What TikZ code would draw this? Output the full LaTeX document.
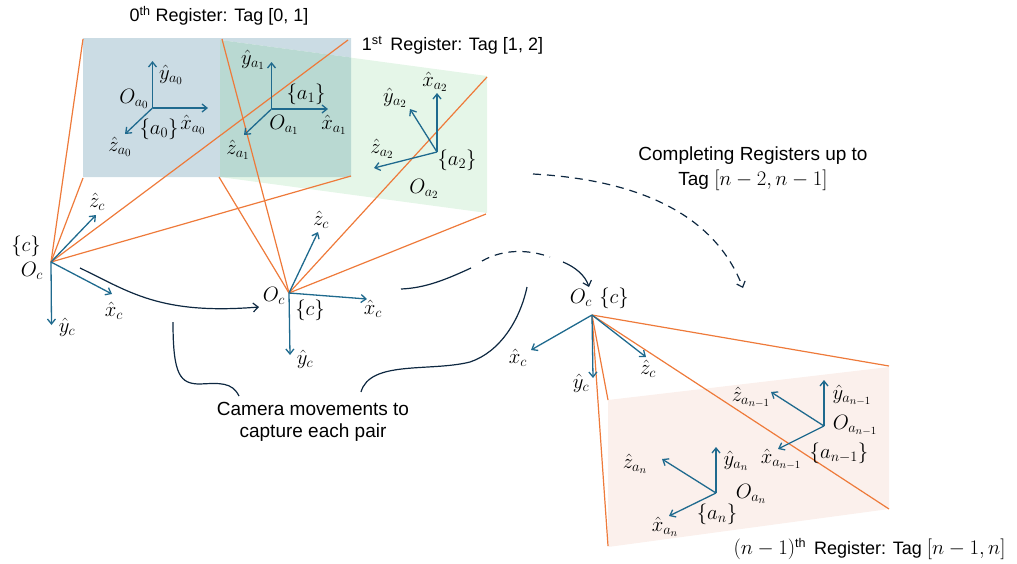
\documentclass[tikz,border=0pt]{standalone}
\usepackage{amsmath,amssymb}
\usepackage{fontspec}
\setmainfont{Liberation Sans}
\DeclareMathSizes{20}{20}{15}{11}
\DeclareMathSizes{21}{21}{15}{11}
\usetikzlibrary{arrows.meta,calc,positioning}
\definecolor{AxisBlue}{HTML}{1F6A8E}
\definecolor{RayOrange}{HTML}{EE7A3A}
\definecolor{MoveNavy}{HTML}{0E2841}
\definecolor{RegBlue}{HTML}{CBDCE4}
\definecolor{RegGreen}{HTML}{E5F6E8}
\definecolor{RegTeal}{HTML}{B9D9D2}
\definecolor{RegPink}{HTML}{FBF0EC}
\newcommand{\tagrange}[1]{{\fontsize{21}{22}\selectfont$#1$}}

\begin{document}
\begin{tikzpicture}[x=1pt,y=-1pt,
    axis/.style={-{Straight Barb[length=5pt,width=8pt]},line width=1.3pt,AxisBlue},
    ray/.style={line width=1.2pt,RayOrange},
    move/.style={line width=1.2pt,MoveNavy},
    movearr/.style={move,-{Straight Barb[length=5pt,width=9pt]}},
    movedash/.style={dash pattern=on 8pt off 6pt},
    sym/.style={inner sep=0pt,font=\fontsize{20}{22}\selectfont},
    reg/.style={inner sep=0pt,font=\fontsize{18}{22}\selectfont},
    note/.style={inner sep=0pt,font=\fontsize{19}{22}\selectfont,align=center}]
    \useasboundingbox (0,0) rectangle (1017,563);
    % register planes
    \fill[RegGreen] (220,40) -- (487,76) -- (487,213) -- (220,177) -- cycle;
    \fill[RegBlue] (83,38) -- (351,38) -- (351,57.5) -- (220,40) -- (220,177) -- (83,177) -- cycle;
    \fill[RegTeal] (220,40) -- (351,57.5) -- (351,177) -- (220,177) -- cycle;
    \fill[RegPink] (608,400) -- (889,367) -- (889,509) -- (608,547) -- cycle;
    % camera poses and tag origins
    \coordinate (camA) at (51,262);
    \coordinate (camB) at (289,293);
    \coordinate (camC) at (592,315);
    \coordinate (tagZero) at (152.5,108);
    \coordinate (tagOne) at (271.5,109);
    \coordinate (tagTwo) at (437,152);
    \coordinate (tagPrev) at (824,426);
    \coordinate (tagLast) at (716,493);
    % rays
    \coordinate (rayA1) at (83,39);
    \coordinate (rayA2) at (83,178);
    \coordinate (rayA3) at (348,40);
    \coordinate (rayA4) at (351,176);
    \coordinate (rayB1) at (222,39);
    \coordinate (rayB2) at (219,177);
    \coordinate (rayB3) at (487,77);
    \coordinate (rayB4) at (486,214);
    \coordinate (rayC1) at (889,366);
    \coordinate (rayC2) at (889,509);
    \coordinate (rayC3) at (608,400);
    \coordinate (rayC4) at (608,546);
    \foreach \ray in {rayA1,rayA2,rayA3,rayA4}
      \draw[ray] (camA) -- (\ray);
    \foreach \ray in {rayB1,rayB2,rayB3,rayB4}
      \draw[ray] (camB) -- (\ray);
    \foreach \ray in {rayC1,rayC2,rayC3,rayC4}
      \draw[ray] (camC) -- (\ray);
    % axis labels
    \node[sym] (yz) at (171,75) {$\hat{y}_{a_0}$};
    \node[sym] (xz) at (193,125) {$\hat{x}_{a_0}$};
    \node[sym] (zz) at (120,147) {$\hat{z}_{a_0}$};
    \node[sym] (oz) at (134,99) {$O_{a_0}$};
    \node[sym] (fz) at (159,129) {$\{a_0\}$};
    \node[sym] (yo) at (253,60) {$\hat{y}_{a_1}$};
    \node[sym] (xo) at (334,125) {$\hat{x}_{a_1}$};
    \node[sym] (zo) at (238,150) {$\hat{z}_{a_1}$};
    \node[sym] (oo) at (284,125) {$O_{a_1}$};
    \node[sym] (fo) at (306,94) {$\{a_1\}$};
    \node[sym] (yt) at (395,98) {$\hat{y}_{a_2}$};
    \node[sym] (xt) at (435,82) {$\hat{x}_{a_2}$};
    \node[sym] (zt) at (382,149) {$\hat{z}_{a_2}$};
    \node[sym] (ot) at (424,189) {$O_{a_2}$};
    \node[sym] (ft) at (457,160) {$\{a_2\}$};
    \node[sym] (yp) at (852,395) {$\hat{y}_{a_{n-1}}$};
    \node[sym] (xp) at (781,459) {$\hat{x}_{a_{n-1}}$};
    \node[sym] (zp) at (751,397) {$\hat{z}_{a_{n-1}}$};
    \node[sym] (op) at (855,425) {$O_{a_{n-1}}$};
    \node[sym] (fp) at (839,453) {$\{a_{n-1}\}$};
    \node[sym] (yl) at (736,461) {$\hat{y}_{a_n}$};
    \node[sym] (xl) at (665,527) {$\hat{x}_{a_n}$};
    \node[sym] (zl) at (635,464) {$\hat{z}_{a_n}$};
    \node[sym] (ol) at (751,494) {$O_{a_n}$};
    \node[sym] (fl) at (717,514) {$\{a_n\}$};
    \node[sym] (fa) at (26,246) {$\{c\}$};
    \node[sym] (oa) at (32,271) {$O_c$};
    \node[sym] (za) at (97,202) {$\hat{z}_c$};
    \node[sym] (xa) at (114,311) {$\hat{x}_c$};
    \node[sym] (ya) at (67,327) {$\hat{y}_c$};
    \node[sym] (ob) at (274,296) {$O_c$};
    \node[sym] (fb) at (310,310) {$\{c\}$};
    \node[sym] (zb) at (321,220) {$\hat{z}_c$};
    \node[sym] (xb) at (373,309) {$\hat{x}_c$};
    \node[sym] (yb) at (305,359) {$\hat{y}_c$};
    \node[sym] (oc) at (581,298) {$O_c$};
    \node[sym] (fc) at (614,298) {$\{c\}$};
    \node[sym] (xc) at (518,358) {$\hat{x}_c$};
    \node[sym] (yc) at (581,383) {$\hat{y}_c$};
    \node[sym] (zc) at (648,369) {$\hat{z}_c$};
    % axes
    \draw[axis] (tagZero) -- (152.5,61);
    \draw[axis] (tagZero) -- (208,108);
    \draw[axis] (tagZero) -- (125,134);
    \draw[axis] (tagOne) -- (271.5,62);
    \draw[axis] (tagOne) -- (328,109);
    \draw[axis] (tagOne) -- (244,135);
    \draw[axis] (tagTwo) -- (437,93);
    \draw[axis] (tagTwo) -- (410,109);
    \draw[axis] (tagTwo) -- (374,168);
    \draw[axis] (tagPrev) -- (824,380);
    \draw[axis] (tagPrev) -- (771,392);
    \draw[axis] (tagPrev) -- (778,449);
    \draw[axis] (tagLast) -- (716,447);
    \draw[axis] (tagLast) -- (662,459);
    \draw[axis] (tagLast) -- (669,516);
    \draw[axis] (camA) -- (96,215);
    \draw[axis] (camA) -- (112,294);
    \draw[axis] (camA) -- (51.5,325);
    \draw[axis] (camB) -- (318,232);
    \draw[axis] (camB) -- (367,299);
    \draw[axis] (camB) -- (290,355);
    \draw[axis] (camC) -- (531,350);
    \draw[axis] (camC) -- (593,378);
    \draw[axis] (camC) -- (646,357);
    % register and movement labels
    \node[reg] (regZero) at (219,16) {0\textsuperscript{th} Register: Tag [0, 1]};
    \node[reg] (regOne) at (452.5,45) {1\textsuperscript{st}\, Register: Tag [1, 2]};
    \node[reg] (regLast) at (869.5,549) {\tagrange{(n-1)}\textsuperscript{th}\, Register: Tag \tagrange{[n-1,n]}};
    \node[note] (moves) at (313,422) {Camera movements to\\capture each pair};
    \node[note,font=\fontsize{19}{25}\selectfont] (rest) at (753,169) {Completing Registers up to\\Tag \tagrange{[n-2,n-1]}};
    % camera movements
    \draw[movearr] (80,268) .. controls (130,292) and (160,315) .. (259,307);
    \draw[move] (401,289) .. controls (425,288) and (445,280) .. (471,268);
    \draw[move,movedash] (482,261) .. controls (505,248) and (530,250) .. (550,257);
    \draw[movearr] (563,262) .. controls (575,267) and (585,275) .. (589,287);
    \draw[move] (173,322) .. controls (173,375) and (180,384) .. (200,384) .. controls (220,383) and (232,382) .. (239,396);
    \draw[move] (361,392) .. controls (370,360) and (430,372) .. (470,362) .. controls (500,352) and (520,320) .. (527,287);
    \draw[movearr,movedash] (533,174) .. controls (640,180) and (715,215) .. (743,288);
  \end{tikzpicture}
\end{document}
